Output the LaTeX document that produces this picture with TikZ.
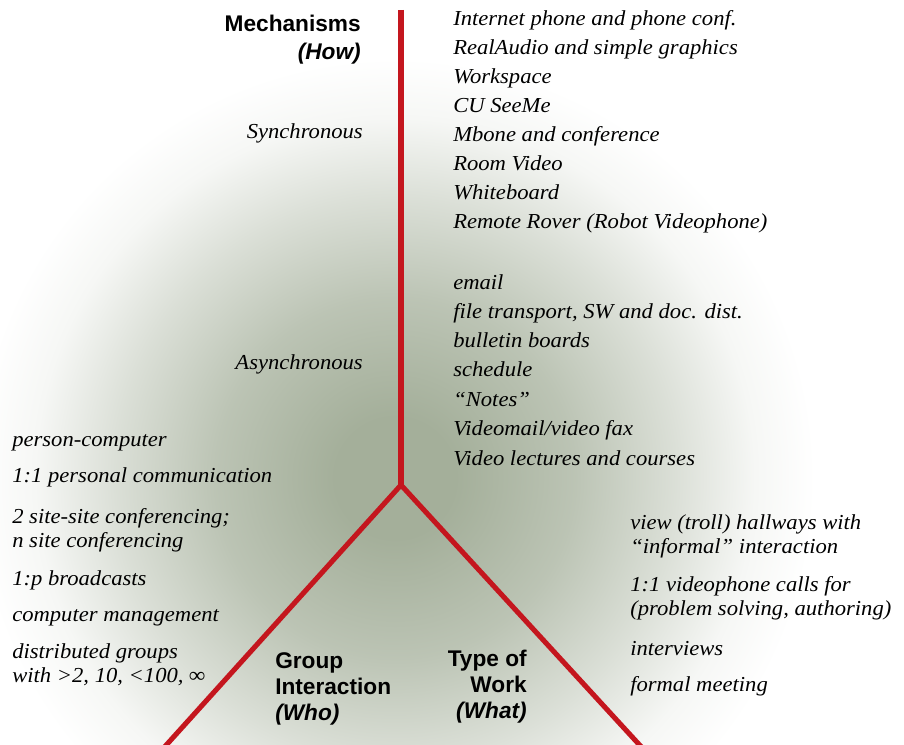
\documentclass[tikz,border=0pt]{standalone}
\usepackage{fontspec}
\newfontfamily\itf{Liberation Serif}[FakeStretch=1.06]
\newfontfamily\sfb{Liberation Sans}
\definecolor{glowc}{RGB}{164,175,154}
\definecolor{redc}{RGB}{196,22,30}
\pgfdeclareradialshading{glow}{\pgfpoint{0bp}{0bp}}{color(0bp)=(glowc); color(45bp)=(glowc); color(134bp)=(glowc!74!white); color(209bp)=(glowc!40!white); color(269bp)=(glowc!10!white); color(314bp)=(white)}
\begin{document}
\begin{tikzpicture}[x=0.75pt,y=-0.75pt,
  itm/.style={anchor=base west, inner sep=0pt, align=left,
    font=\itf\itshape\fontsize{16}{18}\selectfont},
  itmr/.style={anchor=base east, inner sep=0pt, align=right,
    font=\itf\itshape\fontsize{16}{18}\selectfont},
  headr/.style={anchor=base east, inner sep=0pt, align=right,
    font=\sfb\bfseries\fontsize{17}{19.5}\selectfont},
  headl/.style={anchor=base west, inner sep=0pt, align=left,
    font=\sfb\bfseries\fontsize{17}{19.5}\selectfont},
  redline/.style={draw=redc, line width=3.8pt, line join=miter}]
\useasboundingbox (0,0) rectangle (904,745);
\begin{scope}
  \clip (0,0) rectangle (904,745);
  \fill[white] (0,0) rectangle (904,745);
  \node[inner sep=0pt, outer sep=0pt] (bg) at (395,478) {\pgfuseshading{glow}};
\end{scope}
% axes
\coordinate (top) at (401,10);
\coordinate (hub) at (401,485);
\coordinate (bl) at (160,752);
\coordinate (br) at (646,752);
\begin{scope}
  \clip (0,0) rectangle (904,745);
  \draw[redline] (top) -- (hub);
  \draw[redline] (bl) -- (hub) -- (br);
\end{scope}
% headings (anchored on the baseline of their last line)
\node[headr] (mech) at (361,60) {Mechanisms\\[1.5pt]\textit{(How)}};
\node[headl] (grp) at (275,720) {Group\\Interaction\\\textit{(Who)}};
\node[headr] (tow) at (527,718) {Type of\\Work\\\textit{(What)}};
% sync / async labels
\node[itmr] (sync) at (363,139) {Synchronous};
\node[itmr] (async) at (363,370) {Asynchronous};
% synchronous mechanisms
\node[itm] (s1) at (453,26) {Internet phone and phone conf.};
\node[itm] (s2) at (453,55) {RealAudio and simple graphics};
\node[itm] (s3) at (453,84) {Workspace};
\node[itm] (s4) at (453,113) {CU SeeMe};
\node[itm] (s5) at (453,142) {Mbone and conference};
\node[itm] (s6) at (453,171) {Room Video};
\node[itm] (s7) at (453,200) {Whiteboard};
\node[itm] (s8) at (453,229) {Remote Rover (Robot Videophone)};
% asynchronous mechanisms
\node[itm] (a1) at (453,290) {email};
\node[itm] (a2) at (453,319) {file transport, SW and doc. dist.};
\node[itm] (a3) at (453,348) {bulletin boards};
\node[itm] (a4) at (453,377) {schedule};
\node[itm] (a5) at (453,406.5) {“Notes”};
\node[itm] (a6) at (453,435.5) {Videomail/video fax};
\node[itm] (a7) at (453,465) {Video lectures and courses};
% group interaction
\node[itm] (g1) at (12,446) {person-computer};
\node[itm] (g2) at (12,483) {1:1 personal communication};
\node[itm] (g3) at (12,547) {2 site-site conferencing;\\n site conferencing};
\node[itm] (g4) at (12,585) {1:p broadcasts};
\node[itm] (g5) at (12,621) {computer management};
\node[itm] (g6) at (12,682) {distributed groups\\with >2, 10, <100, ∞};
% type of work
\node[itm] (w1) at (630,553.5) {view (troll) hallways with\\“informal” interaction};
\node[itm] (w2) at (630,615.5) {1:1 videophone calls for\\(problem solving, authoring)};
\node[itm] (w3) at (630,655) {interviews};
\node[itm] (w4) at (630,691) {formal meeting};
\end{tikzpicture}
\end{document}
